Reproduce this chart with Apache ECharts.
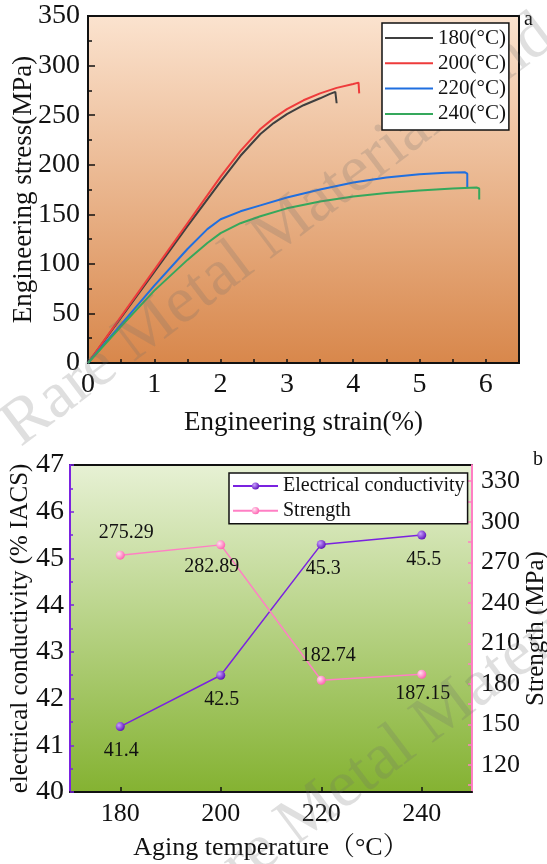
<!DOCTYPE html>
<html>
<head>
<meta charset="utf-8">
<script src="https://cdn.jsdelivr.net/npm/echarts@6/dist/echarts.min.js"></script>
<style>html,body{margin:0;padding:0;background:#fff;}#c{width:547px;height:864px;}</style>
</head>
<body>
<div id="c"></div>
<script>
// ---- Panel a: stress-strain curves (strain %, stress MPa)
const curve180 = [[0,0],[0.5,46],[1,92],[1.5,138],[2,183],[2.3,209],[2.6,231],[2.8,242],[3,251],[3.25,260],[3.5,267],[3.65,271.5],[3.73,273.5],[3.75,273],[3.75,262]];
const curve200 = [[0,0],[0.5,47],[1,94],[1.5,141],[2,188],[2.3,214],[2.6,236],[2.8,247],[3,256],[3.25,265],[3.5,272],[3.75,277.5],[4,281.5],[4.08,282.8],[4.09,282.5],[4.09,272]];
const curve220 = [[0,0],[0.5,39],[1,78],[1.5,115],[1.8,135],[2,145],[2.3,153],[2.6,159],[3,167],[3.5,175],[4,182],[4.5,187],[5,190.5],[5.4,192],[5.68,192.5],[5.72,191],[5.72,177]];
const curve240 = [[0,0],[0.5,37],[1,73],[1.5,104],[1.8,121],[2,131],[2.3,141],[2.6,148],[3,156],[3.5,163],[4,168],[4.5,171.5],[5,174],[5.5,176],[5.86,177],[5.9,176],[5.9,165]];
const curveNames = ['180(°C)','200(°C)','220(°C)','240(°C)'];
const strainTicks = [0,1,2,3,4,5,6];

// ---- Panel b: aging temperature vs conductivity / strength
const agingTemps = [180,200,220,240];
const conductivity = [41.4,42.5,45.3,45.5];
const strength = [275.29,282.89,182.74,187.15];
const strengthTicks = [120,150,180,210,240,270,300,330];
const strengthMinorTicks = [105,120,135,150,165,180,195,210,225,240,255,270,285,300,315,330];

// label placement (style, not data)
const condLabelPos = ['bottom','bottom','bottom','bottom'];
const condLabelDx = [1,1,2,2];
const strLabelPos = ['top','bottom','top','bottom'];
const strLabelDx = [6,-9,7,1];
const strLabelDist = [8,7,10,5];

const FONT = "'Liberation Serif','Times New Roman','Noto Serif CJK SC','Noto Sans CJK SC',serif";
const chart = echarts.init(document.getElementById('c'));
const G = echarts.graphic;

const curveColors = ['#3f3f3f','#ee3b3b','#1f6fe0','#35a85c'];
const curves = [curve180, curve200, curve220, curve240];

const purple = '#7a22e0';
const pink = '#ff7fc4';

function ball(c1, c2){
  return new G.RadialGradient(0.35,0.35,0.7,[{offset:0,color:c1},{offset:1,color:c2}]);
}

const series = [];
curves.forEach((d,i)=>{
  series.push({
    type:'line', name: curveNames[i], xAxisIndex:0, yAxisIndex:0,
    data:d, symbol:'none', showSymbol:false, smooth:false,
    lineStyle:{color:curveColors[i], width:2},
    itemStyle:{color:curveColors[i]},
    z: 2
  });
});

series.push({
  type:'line', name:'Electrical conductivity', xAxisIndex:1, yAxisIndex:1,
  data: agingTemps.map((t,i)=>({
    value:[t, conductivity[i]],
    label:{position:condLabelPos[i], distance:10, offset:[condLabelDx[i],0]}
  })),
  symbol:'circle', symbolSize:9,
  lineStyle:{color:purple, width:1.5},
  itemStyle:{color:ball('#c9a0ff','#5a0fb8'), borderWidth:0},
  label:{show:true, color:'#111', fontFamily:FONT, fontSize:20, formatter:(p)=>String(p.value[1])},
  z:2
});
series.push({
  type:'line', name:'Strength', xAxisIndex:1, yAxisIndex:2,
  data: agingTemps.map((t,i)=>({
    value:[t, strength[i]],
    label:{position:strLabelPos[i], distance:strLabelDist[i], offset:[strLabelDx[i],0]}
  })),
  symbol:'circle', symbolSize:9,
  lineStyle:{color:pink, width:1.5},
  itemStyle:{color:ball('#ffe0f0','#ff5fb0'), borderWidth:0},
  label:{show:true, color:'#111', fontFamily:FONT, fontSize:20, formatter:(p)=>p.value[1].toFixed(2)},
  z:2
});

const topGrad = new G.LinearGradient(0,0,0,1,[{offset:0,color:'#fbe3cf'},{offset:1,color:'#d8874b'}]);
const botGrad = new G.LinearGradient(0,0,0,1,[{offset:0,color:'#e7f1d5'},{offset:1,color:'#84b231'}]);

const wmColor = 'rgba(110,110,110,0.22)';
const ang = 37*Math.PI/180;

chart.setOption({
  animation:false,
  backgroundColor:'#fff',
  textStyle:{fontFamily:FONT},
  grid:[
    {left:88, right:28, top:16, bottom:501, show:true, backgroundColor:topGrad, borderColor:'#111', borderWidth:2, containLabel:false, outerBoundsMode:'none'},
    {left:70, right:75, top:465, bottom:72, show:true, backgroundColor:botGrad, borderColor:'#111', borderWidth:2, containLabel:false, outerBoundsMode:'none'}
  ],
  legend:[
    {
      data:curveNames, left:382, top:23, orient:'vertical', icon:'rect', z:10,
      backgroundColor:'#fff', borderColor:'#111', borderWidth:1.5, borderRadius:0,
      padding:[4,3,5,3], itemGap:3.3, itemWidth:48, itemHeight:2,
      textStyle:{fontFamily:FONT, fontSize:21, color:'#111', lineHeight:22}
    },
    {
      data:['Electrical conductivity','Strength'], left:229, top:473, orient:'vertical', z:10,
      backgroundColor:'#fff', borderColor:'#111', borderWidth:1.5, borderRadius:0,
      padding:[3,3,3,3], itemGap:4.7, itemWidth:45, itemHeight:9,
      textStyle:{fontFamily:FONT, fontSize:20, color:'#111', lineHeight:20}
    }
  ],
  xAxis:[
    {
      gridIndex:0, type:'value', min:0, max:6.5, interval:1,
      name:'Engineering strain(%)', nameLocation:'middle', nameGap:46, nameMoveOverlap:false,
      nameTextStyle:{fontFamily:FONT, fontSize:27, color:'#111'},
      axisLine:{show:true, lineStyle:{color:'#111', width:2}},
      axisTick:{show:true, inside:true, length:4, lineStyle:{color:'#111', width:1.5}},
      minorTick:{show:true, splitNumber:2, length:4, lineStyle:{color:'#111', width:1.5}},
      axisLabel:{fontFamily:FONT, fontSize:28, color:'#111', margin:8, showMaxLabel:false,
        formatter:(v)=> strainTicks.includes(v) ? String(v) : ''},
      splitLine:{show:false}
    },
    {
      gridIndex:1, type:'value', min:170, max:250,
      name:'Aging temperature（°C）', nameLocation:'middle', nameGap:43, nameMoveOverlap:false,
      nameTextStyle:{fontFamily:FONT, fontSize:26, color:'#111'},
      axisLine:{show:true, lineStyle:{color:'#111', width:2}},
      axisTick:{show:true, inside:true, length:5, customValues:agingTemps, lineStyle:{color:'#111', width:1.5}},
      axisLabel:{fontFamily:FONT, fontSize:26, color:'#111', margin:9, customValues:agingTemps},
      splitLine:{show:false}
    }
  ],
  yAxis:[
    {
      gridIndex:0, type:'value', min:0, max:350, interval:50,
      name:'Engineering stress(MPa)', nameLocation:'middle', nameGap:51, nameRotate:90, nameMoveOverlap:false,
      nameTextStyle:{fontFamily:FONT, fontSize:27, color:'#111'},
      axisLine:{show:true, lineStyle:{color:'#111', width:2}},
      axisTick:{show:true, inside:true, length:7, lineStyle:{color:'#111', width:1.5}},
      minorTick:{show:true, splitNumber:2, length:4, lineStyle:{color:'#111', width:1.5}},
      axisLabel:{fontFamily:FONT, fontSize:28, color:'#111', margin:8},
      splitLine:{show:false}
    },
    {
      gridIndex:1, type:'value', min:40, max:47, interval:1, position:'left',
      name:'electrical conductivity (% IACS)', nameLocation:'middle', nameGap:37, nameRotate:90, nameMoveOverlap:false,
      nameTextStyle:{fontFamily:FONT, fontSize:25, color:'#111'},
      axisLine:{show:true, lineStyle:{color:purple, width:2}},
      axisTick:{show:true, inside:true, length:4, lineStyle:{color:purple, width:1.5}},
      minorTick:{show:true, splitNumber:2, length:3, lineStyle:{color:purple, width:1.5}},
      axisLabel:{fontFamily:FONT, fontSize:28, color:'#111', margin:6},
      splitLine:{show:false}
    },
    {
      gridIndex:1, type:'value', min:100, max:342, position:'right',
      name:'Strength (MPa)', nameLocation:'middle', nameGap:52, nameRotate:90, nameMoveOverlap:false,
      nameTextStyle:{fontFamily:FONT, fontSize:25, color:'#111'},
      axisLine:{show:true, lineStyle:{color:pink, width:2}},
      axisTick:{show:true, inside:true, length:4, customValues:strengthMinorTicks, lineStyle:{color:pink, width:1.5}},
      axisLabel:{fontFamily:FONT, fontSize:26, color:'#111', margin:9, customValues:strengthTicks},
      splitLine:{show:false}
    }
  ],
  graphic:[
    {type:'text', left:524, top:10, style:{text:'a', font:"20px 'Liberation Serif'", fill:'#111'}},
    {type:'text', left:533, top:450, style:{text:'b', font:"20px 'Liberation Serif'", fill:'#111'}},
    {type:'text', x:30, y:460, rotation:ang, z:3, silent:true,
      style:{text:'Rare Metal Materials and Engineering', font:"66px 'Liberation Serif'", fill:wmColor, verticalAlign:'bottom', align:'left'}},
    {type:'text', x:192, y:944, rotation:ang, z:3, silent:true,
      style:{text:'Rare Metal Materials and Engineering', font:"66px 'Liberation Serif'", fill:wmColor, verticalAlign:'bottom', align:'left'}}
  ],
  series: series
});
</script>
</body>
</html>
